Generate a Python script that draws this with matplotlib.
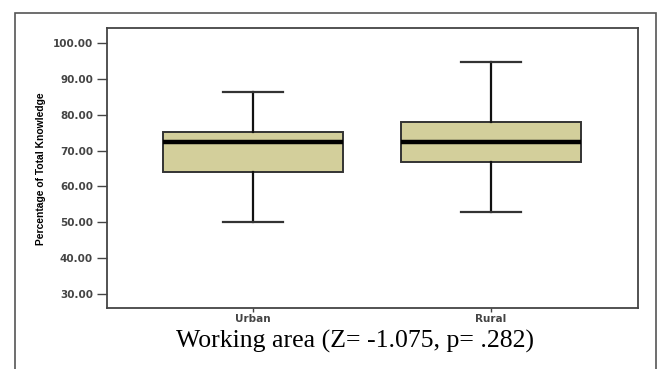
import matplotlib
matplotlib.use("Agg")
import matplotlib.pyplot as plt
from matplotlib.patches import Rectangle

# box statistics
groups = ["Urban", "Rural"]
whislo = [50.1, 52.9]
q1 = [64.1, 66.9]
med = [72.4, 72.4]
q3 = [75.1, 78.0]
whishi = [86.3, 94.8]
yticks = [30, 40, 50, 60, 70, 80, 90, 100]
caption = "Working area (Z= -1.075, p= .282)"

stats = [dict(label=g, whislo=lo, q1=a, med=m, q3=b, whishi=hi, fliers=[])
         for g, lo, a, m, b, hi in zip(groups, whislo, q1, med, q3, whishi)]

fig = plt.figure(figsize=(6.62, 3.69), dpi=100)
ax = fig.add_axes([107 / 662, 61 / 369, 531 / 662, 280 / 369])

bp = ax.bxp(stats, positions=[1, 2], widths=0.756, capwidths=0.25,
            patch_artist=True, showfliers=False,
            boxprops=dict(facecolor="#d3cf9b", edgecolor="#333333", linewidth=1.4),
            medianprops=dict(color="black", linewidth=3.2),
            whiskerprops=dict(color="#111111", linewidth=1.6),
            capprops=dict(color="#333333", linewidth=1.6))

ax.set_xlim(0.387, 2.618)
ax.set_ylim(26.1, 104.2)
ax.set_yticks(yticks)
ax.set_yticklabels(["%.2f" % v for v in yticks], fontsize=7.5, fontweight="bold",
                   color="#444444", family="DejaVu Sans")
ax.set_xticks([1, 2])
ax.set_xticklabels(groups, fontsize=7.5, fontweight="bold", color="#444444",
                   family="DejaVu Sans")
ax.tick_params(axis="y", length=7, width=1, color="#444444", pad=3)
ax.tick_params(axis="x", length=3, width=1, color="#444444", pad=1.5)
for s in ax.spines.values():
    s.set_color("#444444")
    s.set_linewidth(1.3)

ax.set_ylabel("Percentage of Total Knowledge", fontsize=7.4, fontweight="bold",
              family="Liberation Sans", labelpad=0)
ax.yaxis.set_label_coords((46 - 107) / 531, (308 - 169) / 280)

fig.text(355 / 662, 1 - 341 / 369, caption, ha="center", va="center",
         fontsize=18.5, family="Liberation Serif")

# outer frame round the whole figure
fig.patches.append(Rectangle((15 / 662, -0.05), 641 / 662, 1.05 - 13 / 369,
                             transform=fig.transFigure, fill=False,
                             edgecolor="#555555", linewidth=1.2, clip_on=False))

fig.savefig("out.png", dpi=100)
